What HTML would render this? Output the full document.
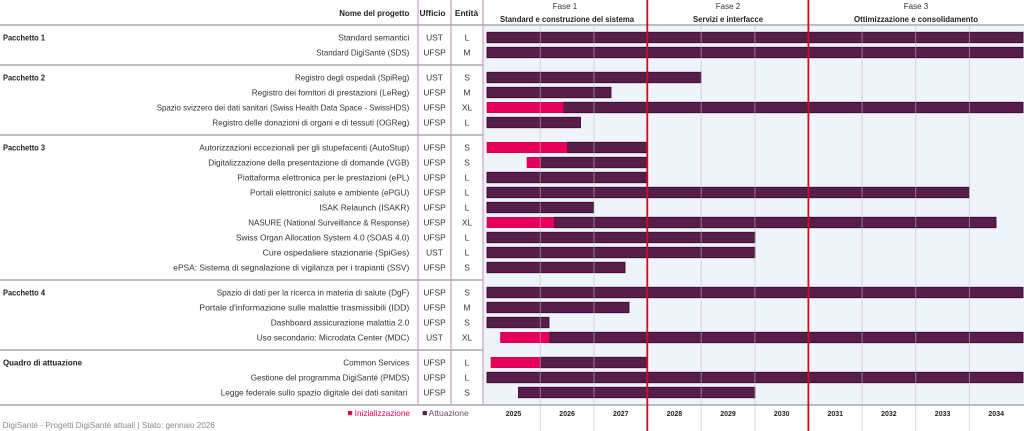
<!DOCTYPE html>
<html><head><meta charset="utf-8"><style>
html,body{margin:0;padding:0;background:#fff;}
svg{display:block;}
text{font-family:"Liberation Sans",Arial,sans-serif;}
.lb{font-size:8.4px;fill:#333;}
.hd{font-size:8.4px;font-weight:bold;fill:#222;}
.gp{font-size:8.4px;font-weight:bold;fill:#222;}
.ph{font-size:8px;fill:#333;}
.yr{font-size:7px;font-weight:bold;fill:#222;}
.ft{font-size:8px;fill:#8a8a8a;}
</style></head><body>
<svg width="1024" height="431" viewBox="0 0 1024 431" xmlns="http://www.w3.org/2000/svg">
<rect x="0" y="0" width="1024" height="431" fill="#fff"/>
<rect x="483" y="26" width="541" height="379" fill="#eef4fa"/>
<g stroke="#d6dbe1" stroke-width="1">
<line x1="540.3" y1="26" x2="540.3" y2="431"/>
<line x1="594" y1="26" x2="594" y2="431"/>
<line x1="701.2" y1="26" x2="701.2" y2="431"/>
<line x1="754.9" y1="26" x2="754.9" y2="431"/>
<line x1="862.1" y1="26" x2="862.1" y2="431"/>
<line x1="915.7" y1="26" x2="915.7" y2="431"/>
<line x1="969.4" y1="26" x2="969.4" y2="431"/>
</g>
<g stroke="#3c0b33" stroke-width="0.9" fill="#561e49">
<rect x="487" y="32.3" width="536" height="10.4"/>
<rect x="487" y="47.3" width="536" height="10.4"/>
<rect x="487" y="72.3" width="214" height="10.4"/>
<rect x="487" y="87.3" width="124" height="10.4"/>
<rect x="563.5" y="102.3" width="459.5" height="10.4"/>
<rect x="487" y="117.3" width="93.5" height="10.4"/>
<rect x="567" y="142.3" width="80" height="10.4"/>
<rect x="540" y="157.3" width="107" height="10.4"/>
<rect x="487" y="172.3" width="160" height="10.4"/>
<rect x="487" y="187.3" width="482" height="10.4"/>
<rect x="487" y="202.3" width="106.5" height="10.4"/>
<rect x="554" y="217.3" width="442" height="10.4"/>
<rect x="487" y="232.3" width="268" height="10.4"/>
<rect x="487" y="247.3" width="268" height="10.4"/>
<rect x="487" y="262.3" width="138" height="10.4"/>
<rect x="487" y="287.3" width="536" height="10.4"/>
<rect x="487" y="302.3" width="142" height="10.4"/>
<rect x="487" y="317.3" width="62" height="10.4"/>
<rect x="549.5" y="332.3" width="473.5" height="10.4"/>
<rect x="540" y="357.3" width="107" height="10.4"/>
<rect x="487" y="372.3" width="536" height="10.4"/>
<rect x="518.5" y="387.3" width="236.5" height="10.4"/>
</g>
<g fill="#e6005a" stroke="#c9004e" stroke-width="0.6">
<rect x="487" y="102.3" width="76.5" height="10.4"/>
<rect x="487" y="142.3" width="80" height="10.4"/>
<rect x="527" y="157.3" width="13" height="10.4"/>
<rect x="487" y="217.3" width="67" height="10.4"/>
<rect x="500.5" y="332.3" width="49" height="10.4"/>
<rect x="491" y="357.3" width="49" height="10.4"/>
</g>
<g stroke="rgba(215,205,215,0.5)" stroke-width="1">
<line x1="540.3" y1="26" x2="540.3" y2="405"/>
<line x1="594" y1="26" x2="594" y2="405"/>
<line x1="701.2" y1="26" x2="701.2" y2="405"/>
<line x1="754.9" y1="26" x2="754.9" y2="405"/>
<line x1="862.1" y1="26" x2="862.1" y2="405"/>
<line x1="915.7" y1="26" x2="915.7" y2="405"/>
<line x1="969.4" y1="26" x2="969.4" y2="405"/>
</g>
<g stroke="#a8a8a8" stroke-width="1.6">
<line x1="0" y1="25" x2="1024" y2="25"/>
<line x1="0" y1="65" x2="483" y2="65"/>
<line x1="0" y1="135" x2="483" y2="135"/>
<line x1="0" y1="280" x2="483" y2="280"/>
<line x1="0" y1="350" x2="483" y2="350"/>
<line x1="0" y1="405" x2="1024" y2="405"/>
</g>
<g stroke="#c9a2c2" stroke-width="1.2">
<line x1="418" y1="0" x2="418" y2="405"/>
<line x1="451" y1="0" x2="451" y2="405"/>
<line x1="483" y1="0" x2="483" y2="405"/>
</g>
<g stroke="#c8101e" stroke-width="1.8">
<line x1="647.3" y1="0" x2="647.3" y2="431"/>
<line x1="808.4" y1="0" x2="808.4" y2="431"/>
</g>
<text class="hd" x="409.3" y="16" text-anchor="end" textLength="70" lengthAdjust="spacingAndGlyphs">Nome del progetto</text>
<text class="hd" x="432.5" y="16" text-anchor="middle">Ufficio</text>
<text class="hd" x="466.5" y="16" text-anchor="middle">Entità</text>
<text class="ph" x="565" y="8.8" text-anchor="middle">Fase 1</text>
<text class="hd" x="567" y="21.8" text-anchor="middle" textLength="134" lengthAdjust="spacingAndGlyphs">Standard e construzione del sistema</text>
<text class="ph" x="728" y="8.8" text-anchor="middle">Fase 2</text>
<text class="hd" x="728" y="21.8" text-anchor="middle" textLength="70" lengthAdjust="spacingAndGlyphs">Servizi e interfacce</text>
<text class="ph" x="916" y="8.8" text-anchor="middle">Fase 3</text>
<text class="hd" x="916" y="21.8" text-anchor="middle" textLength="124" lengthAdjust="spacingAndGlyphs">Ottimizzazione e consolidamento</text>
<text class="gp" x="3" y="40.5" textLength="42" lengthAdjust="spacingAndGlyphs">Pacchetto 1</text>
<text class="gp" x="3" y="80.5" textLength="42" lengthAdjust="spacingAndGlyphs">Pacchetto 2</text>
<text class="gp" x="3" y="150.5" textLength="42" lengthAdjust="spacingAndGlyphs">Pacchetto 3</text>
<text class="gp" x="3" y="295.5" textLength="42" lengthAdjust="spacingAndGlyphs">Pacchetto 4</text>
<text class="gp" x="3" y="365.5" textLength="79" lengthAdjust="spacingAndGlyphs">Quadro di attuazione</text>
<g>
<text class="lb" x="409.3" y="40.5" text-anchor="end" textLength="71" lengthAdjust="spacingAndGlyphs">Standard semantici</text>
<text class="lb" x="409.3" y="55.5" text-anchor="end" textLength="93" lengthAdjust="spacingAndGlyphs">Standard DigiSanté (SDS)</text>
<text class="lb" x="409.3" y="80.5" text-anchor="end" textLength="114.3" lengthAdjust="spacingAndGlyphs">Registro degli ospedali (SpiReg)</text>
<text class="lb" x="409.3" y="95.5" text-anchor="end" textLength="157.6" lengthAdjust="spacingAndGlyphs">Registro dei fornitori di prestazioni (LeReg)</text>
<text class="lb" x="409.3" y="110.5" text-anchor="end" textLength="252.6" lengthAdjust="spacingAndGlyphs">Spazio svizzero dei dati sanitari (Swiss Health Data Space - SwissHDS)</text>
<text class="lb" x="409.3" y="125.5" text-anchor="end" textLength="197" lengthAdjust="spacingAndGlyphs">Registro delle donazioni di organi e di tessuti (OGReg)</text>
<text class="lb" x="409.3" y="150.5" text-anchor="end" textLength="210" lengthAdjust="spacingAndGlyphs">Autorizzazioni eccezionali per gli stupefacenti (AutoStup)</text>
<text class="lb" x="409.3" y="165.5" text-anchor="end" textLength="201" lengthAdjust="spacingAndGlyphs">Digitalizzazione della presentazione di domande (VGB)</text>
<text class="lb" x="409.3" y="180.5" text-anchor="end" textLength="172" lengthAdjust="spacingAndGlyphs">Piattaforma elettronica per le prestazioni (ePL)</text>
<text class="lb" x="409.3" y="195.5" text-anchor="end" textLength="159.3" lengthAdjust="spacingAndGlyphs">Portali elettronici salute e ambiente (ePGU)</text>
<text class="lb" x="409.3" y="210.5" text-anchor="end" textLength="90" lengthAdjust="spacingAndGlyphs">ISAK Relaunch (ISAKR)</text>
<text class="lb" x="409.3" y="225.5" text-anchor="end" textLength="161" lengthAdjust="spacingAndGlyphs">NASURE (National Surveillance &amp; Response)</text>
<text class="lb" x="409.3" y="240.5" text-anchor="end" textLength="173.3" lengthAdjust="spacingAndGlyphs">Swiss Organ Allocation System 4.0 (SOAS 4.0)</text>
<text class="lb" x="409.3" y="255.5" text-anchor="end" textLength="146.6" lengthAdjust="spacingAndGlyphs">Cure ospedaliere stazionarie (SpiGes)</text>
<text class="lb" x="409.3" y="270.5" text-anchor="end" textLength="236" lengthAdjust="spacingAndGlyphs">ePSA: Sistema di segnalazione di vigilanza per i trapianti (SSV)</text>
<text class="lb" x="409.3" y="295.5" text-anchor="end" textLength="192.6" lengthAdjust="spacingAndGlyphs">Spazio di dati per la ricerca in materia di salute (DgF)</text>
<text class="lb" x="409.3" y="310.5" text-anchor="end" textLength="210" lengthAdjust="spacingAndGlyphs">Portale d'informazione sulle malattie trasmissibili (IDD)</text>
<text class="lb" x="409.3" y="325.5" text-anchor="end" textLength="138.6" lengthAdjust="spacingAndGlyphs">Dashboard assicurazione malattia 2.0</text>
<text class="lb" x="409.3" y="340.5" text-anchor="end" textLength="152.6" lengthAdjust="spacingAndGlyphs">Uso secondario: Microdata Center (MDC)</text>
<text class="lb" x="409.3" y="365.5" text-anchor="end" textLength="66" lengthAdjust="spacingAndGlyphs">Common Services</text>
<text class="lb" x="409.3" y="380.5" text-anchor="end" textLength="158.6" lengthAdjust="spacingAndGlyphs">Gestione del programma DigiSanté (PMDS)</text>
<text class="lb" x="407.3" y="395.5" text-anchor="end" textLength="186.6" lengthAdjust="spacingAndGlyphs">Legge federale sullo spazio digitale dei dati sanitari</text>
</g>
<g class="lb" text-anchor="middle">
<text x="434.5" y="40.5">UST</text><text x="467" y="40.5">L</text>
<text x="434.5" y="55.5">UFSP</text><text x="467" y="55.5">M</text>
<text x="434.5" y="80.5">UST</text><text x="467" y="80.5">S</text>
<text x="434.5" y="95.5">UFSP</text><text x="467" y="95.5">M</text>
<text x="434.5" y="110.5">UFSP</text><text x="467" y="110.5">XL</text>
<text x="434.5" y="125.5">UFSP</text><text x="467" y="125.5">L</text>
<text x="434.5" y="150.5">UFSP</text><text x="467" y="150.5">S</text>
<text x="434.5" y="165.5">UFSP</text><text x="467" y="165.5">S</text>
<text x="434.5" y="180.5">UFSP</text><text x="467" y="180.5">L</text>
<text x="434.5" y="195.5">UFSP</text><text x="467" y="195.5">L</text>
<text x="434.5" y="210.5">UFSP</text><text x="467" y="210.5">L</text>
<text x="434.5" y="225.5">UFSP</text><text x="467" y="225.5">XL</text>
<text x="434.5" y="240.5">UFSP</text><text x="467" y="240.5">L</text>
<text x="434.5" y="255.5">UST</text><text x="467" y="255.5">L</text>
<text x="434.5" y="270.5">UFSP</text><text x="467" y="270.5">S</text>
<text x="434.5" y="295.5">UFSP</text><text x="467" y="295.5">S</text>
<text x="434.5" y="310.5">UFSP</text><text x="467" y="310.5">M</text>
<text x="434.5" y="325.5">UFSP</text><text x="467" y="325.5">S</text>
<text x="434.5" y="340.5">UST</text><text x="467" y="340.5">XL</text>
<text x="434.5" y="365.5">UFSP</text><text x="467" y="365.5">L</text>
<text x="434.5" y="380.5">UFSP</text><text x="467" y="380.5">L</text>
<text x="434.5" y="395.5">UFSP</text><text x="467" y="395.5">S</text>
</g>
<g text-anchor="middle">
<text class="yr" x="513.5" y="415.8">2025</text>
<text class="yr" x="567.1" y="415.8">2026</text>
<text class="yr" x="620.8" y="415.8">2027</text>
<text class="yr" x="674.4" y="415.8">2028</text>
<text class="yr" x="728" y="415.8">2029</text>
<text class="yr" x="781.7" y="415.8">2030</text>
<text class="yr" x="835.3" y="415.8">2031</text>
<text class="yr" x="888.9" y="415.8">2032</text>
<text class="yr" x="942.6" y="415.8">2033</text>
<text class="yr" x="996.2" y="415.8">2034</text>
</g>
<rect x="348" y="411" width="4.2" height="4.2" fill="#e6005a"/>
<text x="354.7" y="416" font-size="8.2" fill="#e6005a" textLength="55.3" lengthAdjust="spacingAndGlyphs">Inizializzazione</text>
<rect x="422.7" y="411" width="4.2" height="4.2" fill="#561e49"/>
<text x="428.7" y="416" font-size="8.2" fill="#6b4a63" textLength="40" lengthAdjust="spacingAndGlyphs">Attuazione</text>
<text class="ft" x="2.7" y="427.8" textLength="212.3" lengthAdjust="spacingAndGlyphs">DigiSanté - Progetti DigiSanté attuali | Stato: gennaio 2026</text>
</svg>
</body></html>
